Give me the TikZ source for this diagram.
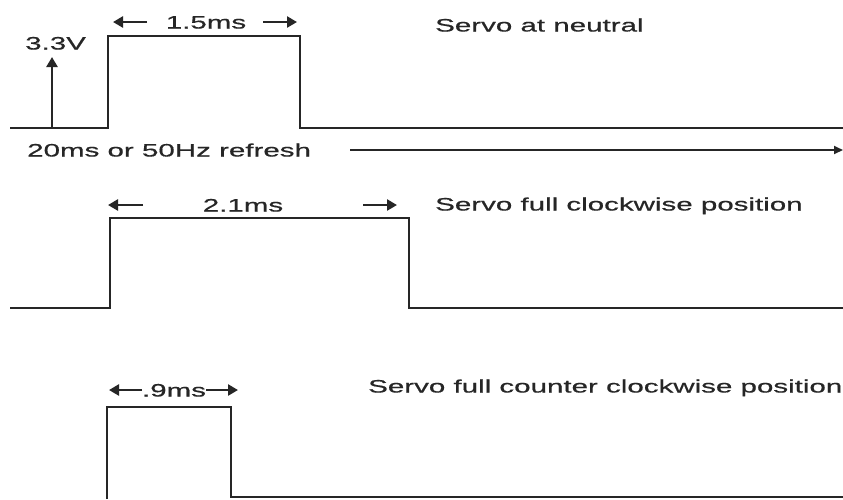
\documentclass[tikz,border=0pt]{standalone}
\usepackage{fontspec}
\setmainfont[FakeStretch=1.64,FakeBold=0.6]{Liberation Sans}
\usetikzlibrary{arrows.meta}
\definecolor{ink}{HTML}{262626}
\tikzset{
  wave/.style={draw=ink, line width=1.8pt, line join=miter},
  dimarrow/.style={draw=ink, line width=2.6pt, -{Triangle[length=10pt,width=11pt]}},
  longarrow/.style={draw=ink, line width=1.8pt, -{Triangle[length=9pt,width=8pt]}},
  lbl/.style={inner sep=0pt, text=ink, text height=13pt, text depth=0pt,
              font=\fontsize{18}{20}\selectfont}
}
\begin{document}
\begin{tikzpicture}[x=1pt,y=-1pt]
\useasboundingbox[fill=white] (0,0) rectangle (843,499);

% ---------- Signal 1: neutral ----------
\draw[wave] (10,128) -- (108,128) -- (108,36) -- (300,36) -- (300,128) -- (843,128);
\coordinate (vb) at (52,128);
\coordinate (vt) at (52,57);
\draw[dimarrow] (vb) -- (vt);
\node[lbl, anchor=west] (v33) at (25,43) {3.3V};
\node[lbl] (t15) at (206,22) {1.5ms};
\coordinate (a1l) at (113,22); \coordinate (a1ls) at (147,22);
\coordinate (a1r) at (297,22); \coordinate (a1rs) at (263,22);
\draw[dimarrow] (a1ls) -- (a1l);
\draw[dimarrow] (a1rs) -- (a1r);
\node[lbl, anchor=west] (s1) at (435,25) {Servo at neutral};
\node[lbl, anchor=west] (ref) at (27,150) {20ms or 50Hz refresh};
\coordinate (rs) at (350,150); \coordinate (re) at (843,150);
\draw[longarrow] (rs) -- (re);

% ---------- Signal 2: full clockwise ----------
\draw[wave] (10,308) -- (110,308) -- (110,218) -- (409,218) -- (409,308) -- (843,308);
\node[lbl] (t21) at (243,205) {2.1ms};
\coordinate (a2l) at (108,205); \coordinate (a2ls) at (143,205);
\coordinate (a2r) at (397,205); \coordinate (a2rs) at (363,205);
\draw[dimarrow] (a2ls) -- (a2l);
\draw[dimarrow] (a2rs) -- (a2r);
\node[lbl, anchor=west] (s2) at (435,204) {Servo full clockwise position};

% ---------- Signal 3: full counter clockwise ----------
\draw[wave] (107,499) -- (107,407) -- (231,407) -- (231,497) -- (843,497);
\node[lbl] (t09) at (174,390) {.9ms};
\coordinate (a3l) at (109,390); \coordinate (a3ls) at (142,390);
\coordinate (a3r) at (238,390); \coordinate (a3rs) at (206,390);
\draw[dimarrow] (a3ls) -- (a3l);
\draw[dimarrow] (a3rs) -- (a3r);
\node[lbl, anchor=west] (s3) at (368,386) {Servo full counter clockwise position};
\end{tikzpicture}
\end{document}
